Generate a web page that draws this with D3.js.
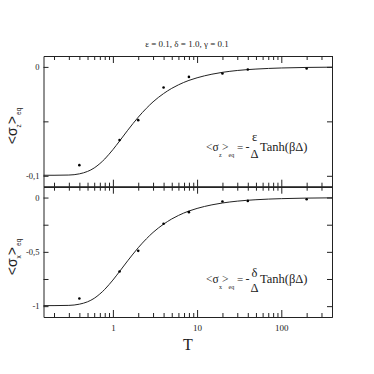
<!DOCTYPE html>
<html><head><meta charset="utf-8">
<script src="https://cdn.jsdelivr.net/npm/d3@7"></script>
<style>html,body{margin:0;padding:0;background:#fff;}svg{display:block;}</style>
</head><body>
<script>
// ---- data ----
const simT = [0.4, 1.2, 2, 4, 8, 20, 40, 200];
const simSz = [-0.0902, -0.0672, -0.0489, -0.0189, -0.0092, -0.0061, -0.0024, -0.0015];
const simSx = [-0.930, -0.681, -0.491, -0.2415, -0.1345, -0.0366, -0.031, -0.0156];

const curveT  = [0.15, 0.2, 0.3, 0.4, 0.5, 0.6, 0.7, 0.8, 0.9, 1, 1.2, 1.5, 2, 2.5, 3, 4, 5, 6, 8, 10, 15, 20, 30, 50, 100, 200, 400];
const curveSz = [-0.0995, -0.0995, -0.0993, -0.0982, -0.0960, -0.0928, -0.0888, -0.0846, -0.0802, -0.0760, -0.0681, -0.0582, -0.0462, -0.0380, -0.0321, -0.0245, -0.0197, -0.0165, -0.0124, -0.0100, -0.0067, -0.0050, -0.0033, -0.0020, -0.0010, -0.0005, -0.00025];
const curveSx = [-0.995, -0.995, -0.993, -0.982, -0.960, -0.928, -0.888, -0.846, -0.802, -0.760, -0.681, -0.582, -0.462, -0.380, -0.321, -0.245, -0.197, -0.165, -0.124, -0.100, -0.067, -0.050, -0.033, -0.020, -0.010, -0.005, -0.0025];

const xDomain = [0.15, 400];
const xMajor = [1, 10, 100];
const xMajorLabels = ["1", "10", "100"];
const yTopDomain = [-0.11, 0.01];
const yTopMajor = [0, -0.1];
const yTopLabels = ["0", "-0,1"];
const yTopMinor = [-0.05];
const yBotDomain = [-1.1, 0.1];
const yBotMajor = [0, -0.5, -1];
const yBotLabels = ["0", "-0,5", "-1"];
const yBotMinor = [-0.25, -0.75];
const titleText = "ε = 0.1, δ = 1.0, γ = 0.1";

// ---- drawing ----
const W = 374, H = 374;
const L = 43.5, R = 332, T0 = 56, MID = 186.7, B = 317;
const svg = d3.select("body").append("svg").attr("width", W).attr("height", H);
const serif = "Liberation Serif, Times New Roman, serif";
const sans = "Liberation Sans, Arial, sans-serif";
const ink = "#222";

const x = d3.scaleLog().domain(xDomain).range([L, R]);
const yT = d3.scaleLinear().domain(yTopDomain).range([MID, T0]);
const yB = d3.scaleLinear().domain(yBotDomain).range([B, MID]);

const allX = x.ticks().filter(v => v >= xDomain[0] && v <= xDomain[1]);
const minorX = allX.filter(v => !xMajor.includes(v));

function xAxisAt(yPos, dir, labels) {
  const gMaj = svg.append("g").attr("transform", `translate(0,${yPos})`);
  const maj = (dir < 0 ? d3.axisBottom(x) : d3.axisTop(x))
    .tickValues(xMajor).tickSizeInner(-7).tickSizeOuter(0)
    .tickFormat(labels ? (d, i) => xMajorLabels[i] : () => "");
  gMaj.call(maj);
  const gMin = svg.append("g").attr("transform", `translate(0,${yPos})`);
  gMin.call((dir < 0 ? d3.axisBottom(x) : d3.axisTop(x))
    .tickValues(minorX).tickSizeInner(-4).tickSizeOuter(0).tickFormat(() => ""));
  [gMaj, gMin].forEach(g => {
    g.attr("font-family", serif);
    g.select(".domain").attr("stroke", ink);
    g.selectAll(".tick line").attr("stroke", ink);
    g.selectAll("text").attr("font-family", serif).attr("font-size", 9).attr("fill", ink);
  });
  if (labels) gMaj.selectAll("text").attr("dy", "1.2em");
}

function yAxisAt(scale, majors, labels, minors) {
  const gl = svg.append("g").attr("transform", `translate(${L},0)`);
  gl.call(d3.axisLeft(scale).tickValues(majors.concat(minors)).tickSizeInner(-5).tickSizeOuter(0)
    .tickFormat(d => { const i = majors.indexOf(d); return i >= 0 ? labels[i] : ""; }).tickPadding(4));
  const gr = svg.append("g").attr("transform", `translate(${R},0)`);
  gr.call(d3.axisRight(scale).tickValues(majors.concat(minors)).tickSizeInner(-5).tickSizeOuter(0).tickFormat(() => ""));
  [gl, gr].forEach(g => {
    g.attr("font-family", serif);
    g.select(".domain").attr("stroke", ink);
    g.selectAll(".tick line").attr("stroke", ink);
    g.selectAll("text").attr("font-family", serif).attr("font-size", 8.5).attr("fill", ink);
  });
}

// top panel
xAxisAt(T0, +1, false);
xAxisAt(MID, -1, false);
yAxisAt(yT, yTopMajor, yTopLabels, yTopMinor);
// bottom panel
xAxisAt(MID, +1, false);
xAxisAt(B, -1, true);
yAxisAt(yB, yBotMajor, yBotLabels, yBotMinor);

// curves
const lineT = d3.line().x((d, i) => x(curveT[i])).y(d => yT(d)).curve(d3.curveMonotoneX);
const lineB = d3.line().x((d, i) => x(curveT[i])).y(d => yB(d)).curve(d3.curveMonotoneX);
svg.append("path").attr("d", lineT(curveSz)).attr("fill", "none").attr("stroke", ink).attr("stroke-width", 1);
svg.append("path").attr("d", lineB(curveSx)).attr("fill", "none").attr("stroke", ink).attr("stroke-width", 1);

// points
svg.append("g").selectAll("circle").data(simSz).join("circle")
  .attr("cx", (d, i) => x(simT[i])).attr("cy", d => yT(d)).attr("r", 1.3).attr("fill", "#000");
svg.append("g").selectAll("circle").data(simSx).join("circle")
  .attr("cx", (d, i) => x(simT[i])).attr("cy", d => yB(d)).attr("r", 1.3).attr("fill", "#000");

// title
svg.append("text").attr("x", 187).attr("y", 46.5).attr("text-anchor", "middle")
  .attr("font-family", serif).attr("font-size", 9).attr("fill", ink).text(titleText);

// x label
svg.append("text").attr("x", 188).attr("y", 349.5).attr("text-anchor", "middle")
  .attr("font-family", serif).attr("font-size", 16).attr("fill", ink).text("T");

// y labels
function yLabel(cy, sub) {
  const t = svg.append("text").attr("transform", `translate(17,${cy}) rotate(-90)`)
    .attr("text-anchor", "middle").attr("font-family", sans).attr("font-size", 14).attr("fill", ink);
  t.append("tspan").text("<σ");
  t.append("tspan").attr("font-size", 6.5).attr("dy", 4).text(sub);
  t.append("tspan").attr("dy", -4).text(">");
  t.append("tspan").attr("font-size", 6.5).attr("dy", 4).attr("dx", 1).text("eq");
}
yLabel(126, "z");
yLabel(257, "x");

// equations
function eq(base, sub, num, numY, denY) {
  const put = (xx, yy, size, txt, anchor) => {
    const e = svg.append("text").attr("x", xx).attr("y", yy).attr("font-size", size)
      .attr("font-family", serif).attr("fill", ink).text(txt);
    if (anchor) e.attr("text-anchor", anchor);
    return e;
  };
  put(206, base, 11.5, "<σ");
  put(219, base + 6, 6, sub);
  put(222, base, 11.5, ">");
  put(228.5, base + 6, 6, "eq");
  put(237, base, 11, "=");
  put(245.5, base, 12, "-");
  put(254.5, numY, 12.5, num, "middle");
  put(254.5, denY, 12.5, "Δ", "middle");
  put(260, base, 12.5, "Tanh(βΔ)");
}
eq(151, "z", "ε", 141, 158);
eq(283, "x", "δ", 276.5, 292);
</script>
</body></html>
